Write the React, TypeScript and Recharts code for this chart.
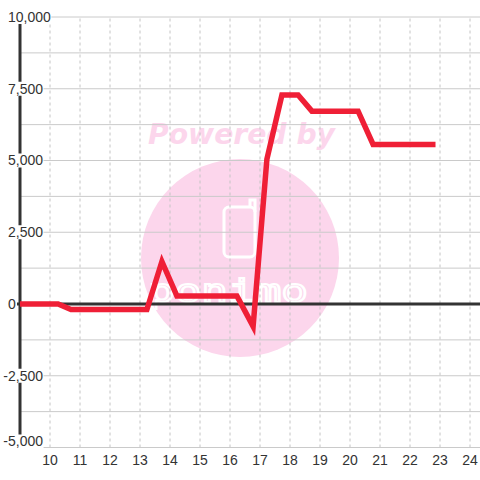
import React from "react";
import { LineChart, Line, XAxis, YAxis, ReferenceLine } from "recharts";

const xValues = [9, 10.27, 10.7, 13.23, 13.73, 14.23, 16.23, 16.77, 17.23, 17.73, 18.27, 18.73, 20.27, 20.77, 22.85];
const yValues = [0, 0, -190, -190, 1480, 280, 280, -780, 5050, 7280, 7280, 6720, 6720, 5560, 5560];
const xTicks = [10, 11, 12, 13, 14, 15, 16, 17, 18, 19, 20, 21, 22, 23, 24];
const yTicks = [-5000, -2500, 0, 2500, 5000, 7500, 10000];
const yGrid = [-5000, -3750, -2500, -1250, 1250, 2500, 3750, 5000, 6250, 7500, 8750, 10000];
const X_MIN = 8.9;
const X_MAX = 24.333;
const AXIS_X = 9;

const data = xValues.map((x, i) => ({ x, y: yValues[i] }));

const FONT = "'Liberation Sans', Arial, sans-serif";

function fmt(v: number): string {
  const s = Math.abs(v).toString().replace(/\B(?=(\d{3})+(?!\d))/g, ",");
  return (v < 0 ? "-" : "") + s;
}

function textWidth(s: string): number {
  let w = 0;
  for (const c of s) {
    if (c === ",") w += 3.89;
    else if (c === "-") w += 4.66;
    else w += 7.79;
  }
  return w;
}

const YTick = (props: any) => {
  const { y, payload } = props;
  const v = payload.value as number;
  const label = fmt(v);
  const w = textWidth(label);
  const startX = 8 - (v < 0 ? 4.66 : 0);
  const cy = v === -5000 ? y - 6 : y;
  return (
    <g>
      <rect x={startX - 0.5} y={cy - 7} width={w + 1} height={14} fill="#ffffff" />
      <text x={startX} y={cy} dy="0.35em" textAnchor="start" fontSize={14} fontFamily={FONT} fill="#333">
        {label}
      </text>
    </g>
  );
};

const XTick = (props: any) => {
  const { x, y, payload } = props;
  return (
    <text x={x} y={y + 13} dy="0.35em" textAnchor="middle" fontSize={14} fontFamily={FONT} fill="#333">
      {payload.value}
    </text>
  );
};

const Watermark = () => (
  <svg width={480} height={480} style={{ position: "absolute", left: 0, top: 0 }}>
    <circle cx={240} cy={258} r={99} fill="#fcd6ec" />
    <text
      x={148}
      y={144}
      fontSize={28}
      fontWeight="bold"
      fontStyle="italic"
      fontFamily="'DejaVu Sans', Verdana, sans-serif"
      fill="#fcd6ec"
      textLength={187}
      lengthAdjust="spacingAndGlyphs"
    >
      Powered by
    </text>
    <rect x={224} y={207} width={31} height={50} rx={5} fill="none" stroke="#ffffff" strokeWidth={3} />
    <path d="M250 207 L250 200 L255 200 L255 212" fill="none" stroke="#ffffff" strokeWidth={3} />
    <text
      x={148}
      y={302}
      fontSize={32}
      fontFamily="'DejaVu Sans Mono', monospace"
      fill="none"
      stroke="#ffffff"
      strokeWidth={2}
      textLength={160}
      lengthAdjust="spacingAndGlyphs"
    >
      ponimo
    </text>
  </svg>
);

export default function App() {
  return (
    <div style={{ position: "absolute", left: 0, top: 0, width: 480, height: 480 }}>
      <Watermark />
      <div style={{ position: "absolute", left: 0, top: 0 }}>
        <LineChart width={480} height={480} data={data} margin={{ top: 17, right: 0, bottom: 0, left: 0 }}>
          {xTicks.map((t) => (
            <ReferenceLine key={"vx" + t} x={t} stroke="#c4c4c4" strokeWidth={1} strokeDasharray="3 3" />
          ))}
          {yGrid.map((v) => (
            <ReferenceLine
              key={"hy" + v}
              segment={[
                { x: AXIS_X, y: v },
                { x: X_MAX, y: v },
              ]}
              stroke="#cacaca"
              strokeWidth={1}
            />
          ))}
          <ReferenceLine x={AXIS_X} stroke="#333" strokeWidth={3} />
          <ReferenceLine y={0} stroke="#333" strokeWidth={3} />
          <XAxis
            type="number"
            dataKey="x"
            domain={[X_MIN, X_MAX]}
            ticks={xTicks}
            height={32.5}
            axisLine={false}
            tickLine={false}
            tickSize={0}
            tickMargin={0}
            tick={<XTick />}
            interval={0}
          />
          <YAxis
            type="number"
            domain={[-5000, 10000]}
            ticks={yTicks}
            width={17}
            axisLine={false}
            tickLine={false}
            tickSize={0}
            tickMargin={0}
            tick={<YTick />}
            interval={0}
          />
          <Line
            type="linear"
            dataKey="y"
            stroke="#ef1f36"
            strokeWidth={5.5}
            dot={false}
            activeDot={false}
            isAnimationActive={false}
          />
        </LineChart>
      </div>
    </div>
  );
}
